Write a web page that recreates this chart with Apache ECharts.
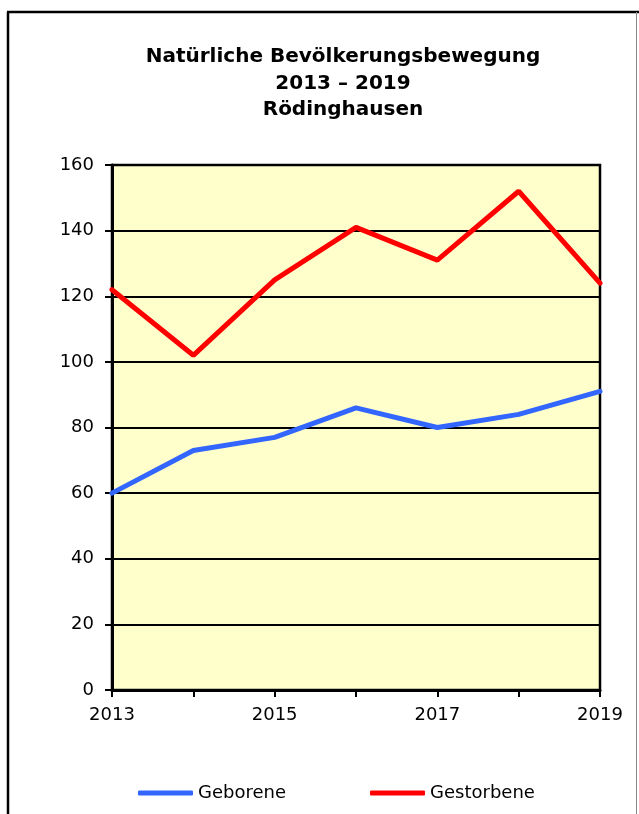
<!DOCTYPE html>
<html>
<head>
<meta charset="utf-8">
<script src="https://cdn.jsdelivr.net/npm/echarts@6/dist/echarts.min.js"></script>
<style>
  html, body { margin: 0; padding: 0; background: #fff; }
  #chart { width: 639px; height: 814px; }
</style>
</head>
<body>
<div id="chart"></div>
<script>
// values
const years = ['2013', '2014', '2015', '2016', '2017', '2018', '2019'];
const geborene = [60, 73, 77, 86, 80, 84, 91];
const gestorbene = [122, 102, 125, 141, 131, 152, 124];

const chart = echarts.init(document.getElementById('chart'));
const font = 'DejaVu Sans';

const option = {
  animation: false,
  backgroundColor: '#fff',
  title: {
    text: 'Natürliche Bevölkerungsbewegung\n2013 – 2019\nRödinghausen',
    left: 338,
    top: 39,
    textAlign: 'center',
    textStyle: {
      fontFamily: font,
      fontSize: 20,
      fontWeight: 'bold',
      color: '#000',
      lineHeight: 26.5
    }
  },
  graphic: [
    { type: 'line', shape: { x1: 7, y1: 12, x2: 639, y2: 12 }, style: { stroke: '#000', lineWidth: 2.5 } },
    { type: 'line', shape: { x1: 8, y1: 12, x2: 8, y2: 814 }, style: { stroke: '#000', lineWidth: 2.5 } },
    { type: 'line', shape: { x1: 636.5, y1: 12, x2: 636.5, y2: 814 }, style: { stroke: '#888', lineWidth: 1 } }
  ],
  legend: {
    top: 779,
    left: 133,
    icon: 'roundRect',
    itemWidth: 55,
    itemHeight: 5,
    itemGap: 84,
    textStyle: { fontFamily: font, fontSize: 18, color: '#000' },
    data: ['Geborene', 'Gestorbene']
  },
  grid: {
    left: 112,
    right: 39,
    top: 165,
    bottom: 124,
    show: true,
    backgroundColor: '#FFFFCC',
    borderColor: '#000',
    borderWidth: 2.5
  },
  xAxis: {
    type: 'category',
    data: years,
    boundaryGap: false,
    axisLine: { lineStyle: { color: '#000', width: 3 } },
    axisTick: { show: true, interval: 0, length: 7, lineStyle: { color: '#000', width: 2 } },
    axisLabel: { interval: 1, margin: 16, fontFamily: font, fontSize: 18, color: '#000' },
    splitLine: { show: false }
  },
  yAxis: {
    type: 'value',
    min: 0,
    max: 160,
    interval: 20,
    axisLine: { show: true, lineStyle: { color: '#000', width: 3 } },
    axisTick: { show: true, length: 7, lineStyle: { color: '#000', width: 2 } },
    axisLabel: { margin: 18, fontFamily: font, fontSize: 18, color: '#000' },
    splitLine: { show: true, lineStyle: { color: '#000', width: 2 } }
  },
  series: [
    {
      name: 'Geborene',
      type: 'line',
      data: geborene,
      symbol: 'none',
      color: '#3366FF',
      lineStyle: { width: 5, color: '#3366FF', cap: 'round' }
    },
    {
      name: 'Gestorbene',
      type: 'line',
      data: gestorbene,
      symbol: 'none',
      color: '#FF0000',
      lineStyle: { width: 5, color: '#FF0000', cap: 'round' }
    }
  ]
};

option && chart.setOption(option);
</script>
</body>
</html>
